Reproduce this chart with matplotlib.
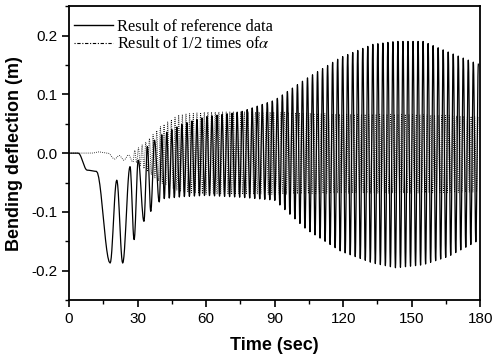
import numpy as np
import matplotlib
matplotlib.use('agg')
import matplotlib.pyplot as plt
from matplotlib.lines import Line2D

plt.rcParams['mathtext.fontset'] = 'stix'

# Datos
# Transitorio inicial (curva de referencia): extremos (t, y)
sol_ini_t = [0, 4, 8, 12, 18.0, 20.9, 23.5, 26.7, 28.5, 30.3, 32.8, 34.3, 35.8, 37.4, 39.5]
sol_ini_y = [0, 0, -0.029, -0.031, -0.187, -0.046, -0.187, -0.023, -0.147, -0.012, -0.116, 0.011, -0.099, 0.022, -0.083]
# Envolvente de la oscilacion (curva de referencia)
sol_env_t = [40, 50, 60, 75, 90, 104, 119, 133, 143, 155, 166, 180]
sol_env_hi = [0.030, 0.050, 0.062, 0.070, 0.090, 0.127, 0.163, 0.185, 0.190, 0.190, 0.172, 0.150]
sol_env_lo = [-0.078, -0.074, -0.072, -0.075, -0.080, -0.130, -0.167, -0.187, -0.195, -0.190, -0.176, -0.147]
sol_periodo = 2.2

# Curva 1/2 alpha
dot_ini_t = [0, 10, 13, 17, 20, 22, 24, 26, 28]
dot_ini_y = [0, 0, 0.002, 0.0, -0.010, -0.004, -0.012, -0.003, -0.015]
dot_env_t = [29, 34, 40, 48, 60, 90, 120, 150, 180]
dot_env_hi = [0.005, 0.020, 0.045, 0.065, 0.070, 0.070, 0.066, 0.066, 0.062]
dot_env_lo = [-0.015, -0.030, -0.050, -0.065, -0.070, -0.070, -0.068, -0.068, -0.066]
dot_periodo = 1.6

xticks = [0, 30, 60, 90, 120, 150, 180]
yticks = [-0.2, -0.1, 0.0, 0.1, 0.2]


def extremos(t_ini, y_ini, env_t, env_hi, env_lo, periodo, t_fin=180):
    ts, ys = list(t_ini), list(y_ini)
    t = t_ini[-1] + periodo / 2
    arriba = y_ini[-1] < y_ini[-2]
    while t <= t_fin:
        ts.append(t)
        ys.append(np.interp(t, env_t, env_hi if arriba else env_lo))
        arriba = not arriba
        t += periodo / 2
    return np.array(ts), np.array(ys)


def curva(ts, ys, n=12):
    xx, yy = [], []
    for i in range(len(ts) - 1):
        s = np.linspace(0, 1, n, endpoint=False)
        w = (1 - np.cos(np.pi * s)) / 2
        xx.append(ts[i] + (ts[i + 1] - ts[i]) * s)
        yy.append(ys[i] + (ys[i + 1] - ys[i]) * w)
    xx.append([ts[-1]])
    yy.append([ys[-1]])
    return np.concatenate(xx), np.concatenate(yy)


t1, y1 = curva(*extremos(sol_ini_t, sol_ini_y, sol_env_t, sol_env_hi, sol_env_lo, sol_periodo))
t2, y2 = curva(*extremos(dot_ini_t, dot_ini_y, dot_env_t, dot_env_hi, dot_env_lo, dot_periodo))

fig = plt.figure(figsize=(4.93, 3.62), dpi=100)
ax = fig.add_axes([0.140, 0.171, 0.834, 0.812])

ax.plot(t2, y2, color='black', lw=0.6, linestyle=(0, (1, 1.5)))
ax.plot(t1, y1, color='black', lw=0.9)

ax.set_xlim(0, 180)
ax.set_ylim(-0.25, 0.25)
ax.set_xticks(xticks)
ax.set_yticks(yticks)
ax.set_xticklabels([str(v) for v in xticks], fontfamily='Liberation Sans', fontsize=11)
ax.set_yticklabels([f'{v:.1f}' for v in yticks], fontfamily='Liberation Sans', fontsize=11)
ax.set_xticks(np.arange(15, 180, 30), minor=True)
ax.set_yticks(np.arange(-0.25, 0.26, 0.1), minor=True)
ax.tick_params(which='major', direction='out', length=5, width=1.2, top=False, right=False)
ax.tick_params(which='minor', direction='out', length=3, width=1.0, top=False, right=False)
for sp in ax.spines.values():
    sp.set_linewidth(1.3)

ax.set_xlabel('Time (sec)', fontfamily='Liberation Sans', fontsize=13, fontweight='bold', labelpad=8)
ax.set_ylabel('Bending deflection (m)', fontfamily='Liberation Sans', fontsize=13, fontweight='bold', labelpad=6)

handles = [Line2D([], [], color='black', lw=1.0),
           Line2D([], [], color='black', lw=0.8, linestyle=(0, (1, 1.5, 3, 1.5)))]
ax.legend(handles, ['Result of reference data', r'Result of 1/2 times of$\alpha$'],
          loc='upper left', bbox_to_anchor=(-0.005, 0.978), frameon=False,
          handlelength=2.4, handletextpad=0.25,
          labelspacing=0.08, borderaxespad=0.0, borderpad=0.4,
          prop={'family': 'Liberation Serif', 'size': 11.8})

fig.savefig('out.png', dpi=100)
